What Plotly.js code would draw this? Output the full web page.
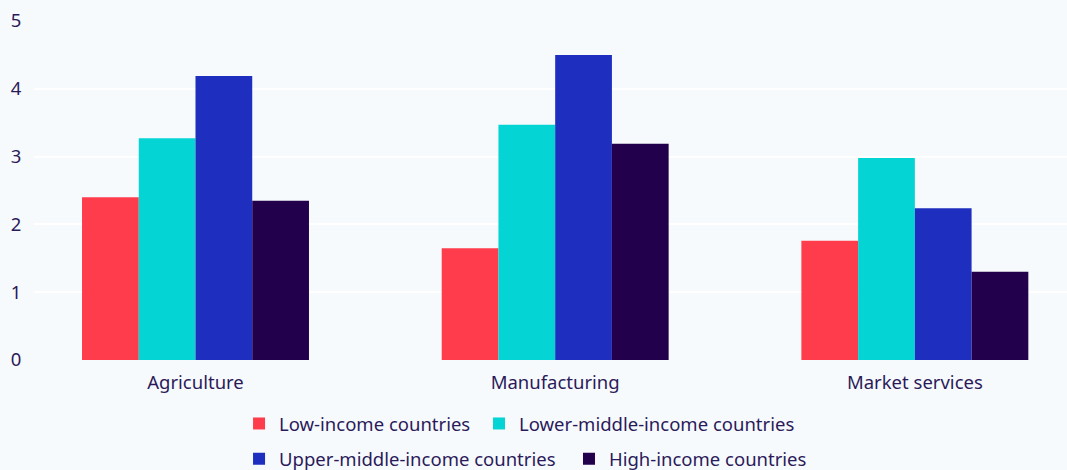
<!DOCTYPE html>
<html>
<head>
<meta charset="utf-8">
<script src="https://cdn.plot.ly/plotly-3.0.1.min.js"></script>
<style>html,body{margin:0;padding:0;background:#f7fafd;}#chart{width:1067px;height:470px;}</style>
</head>
<body>
<div id="chart"></div>
<script>
const categories = ["Agriculture", "Manufacturing", "Market services"];
const seriesNames = ["Low-income countries", "Lower-middle-income countries", "Upper-middle-income countries", "High-income countries"];
const lowIncome = [2.40, 1.65, 1.76];
const lowerMiddleIncome = [3.27, 3.47, 2.98];
const upperMiddleIncome = [4.19, 4.50, 2.24];
const highIncome = [2.35, 3.19, 1.30];
const colors = ["#ff3c4c", "#05d4d4", "#1e2ebe", "#23004c"];
const yTicks = [0, 1, 2, 3, 4, 5];

const values = [lowIncome, lowerMiddleIncome, upperMiddleIncome, highIncome];
const legendIds = ["legend", "legend2", "legend3", "legend4"];
const traces = values.map((v, i) => ({
  type: "bar", x: categories, y: v, name: seriesNames[i],
  marker: {color: colors[i], line: {width: 0}}, legend: legendIds[i], hoverinfo: "x+y+name"
}));

const font = {family: "Noto Sans, sans-serif", size: 18.5, color: "#2b1a5a"};
const legendBase = {orientation: "h", xanchor: "left", yref: "container", yanchor: "middle", font: {size: 18.5}, bgcolor: "rgba(0,0,0,0)"};
const layout = {
  width: 1067, height: 470,
  paper_bgcolor: "#f7fafd", plot_bgcolor: "#f7fafd",
  margin: {l: 34, r: 0, t: 21, b: 110},
  font: font,
  barmode: "group", bargap: 0.369, bargroupgap: 0,
  xaxis: {range: [-0.449, 2.423], showgrid: false, zeroline: false, showline: false, ticks: "outside", ticklen: 6, tickcolor: "rgba(0,0,0,0)", tickfont: {size: 18.5}},
  yaxis: {range: [0, 5], tickvals: yTicks, gridcolor: "#ffffff", gridwidth: 2, zeroline: false, showline: false, ticks: "outside", ticklen: 8, tickcolor: "rgba(0,0,0,0)", tickfont: {size: 18.5}},
  showlegend: true,
  legend: Object.assign({}, legendBase, {x: 0.1985, y: 0.098}),
  legend2: Object.assign({}, legendBase, {x: 0.4308, y: 0.098}),
  legend3: Object.assign({}, legendBase, {x: 0.1985, y: 0.023}),
  legend4: Object.assign({}, legendBase, {x: 0.5179, y: 0.023})
};
Plotly.newPlot("chart", traces, layout, {displayModeBar: false, staticPlot: true});
</script>
</body>
</html>
